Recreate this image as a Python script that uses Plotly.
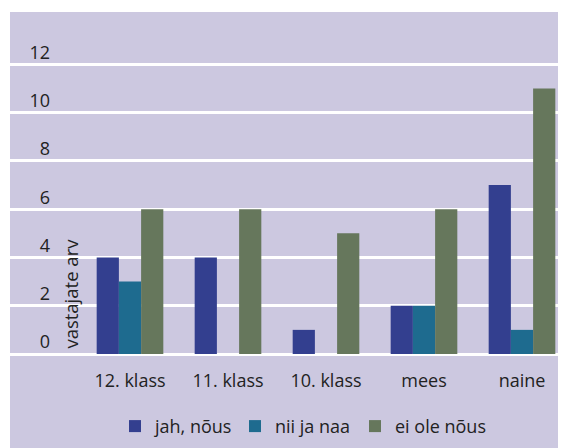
import plotly.graph_objects as go

categories = ["12. klass", "11. klass", "10. klass", "mees", "naine"]
series_names = ["jah, nõus", "nii ja naa", "ei ole nõus"]
jah_nous = [4, 4, 1, 2, 7]
nii_ja_naa = [3, 0, 0, 2, 1]
ei_ole_nous = [6, 6, 5, 6, 11]
y_ticks = [0, 2, 4, 6, 8, 10, 12]
colors = ["#333f8f", "#1e6b8f", "#66775c"]
bg = "#ccc8e0"
font_family = "Open Sans, Noto Sans, sans-serif"

OFF = 8  # page body margin
W, H = 566, 448
ml, mr, mt = 10 - OFF, 0, 12 - OFF
zero_px = 354.5 - OFF
mb = H - zero_px
plot_w = W - ml - mr
plot_h = H - mt - mb
px_per_cat = 98
x0 = -(130 - 10) / px_per_cat
x1 = x0 + plot_w / px_per_cat
px_per_unit = (354.5 - 64.5) / 12
y1 = plot_h / px_per_unit


def px_x(page_x):
    return (page_x - OFF - ml) / plot_w


def px_y(page_y):
    return (zero_px - (page_y - OFF)) / plot_h


legend_keys = ["legend", "legend2", "legend3"]
legend_x = [115, 235, 355]

fig = go.Figure()
for name, vals, c, lk in zip(series_names, [jah_nous, nii_ja_naa, ei_ole_nous], colors, legend_keys):
    fig.add_trace(go.Bar(x=categories, y=vals, name=name, legend=lk,
                         marker=dict(color=c, line=dict(width=0))))

legends = {}
for lk, lx in zip(legend_keys, legend_x):
    legends[lk] = dict(
        orientation="h", x=px_x(lx), xanchor="left",
        y=px_y(427), yanchor="middle",
        bgcolor="rgba(0,0,0,0)", font=dict(size=18), itemwidth=30,
    )

fig.update_layout(
    width=W, height=H,
    margin=dict(l=ml, r=mr, t=mt, b=mb, pad=0),
    paper_bgcolor="white",
    plot_bgcolor=bg,
    barmode="group",
    bargap=0.32,
    bargroupgap=0,
    font=dict(family=font_family, size=18, color="#222222"),
    showlegend=True,
    shapes=[dict(type="rect", xref="paper", yref="paper", x0=0, x1=1,
                 y0=-mb / plot_h, y1=1, fillcolor=bg, line=dict(width=0), layer="below")],
    xaxis=dict(range=[x0, x1], showgrid=False, zeroline=False, showline=False,
               ticks="", tickfont=dict(size=18), ticklabelstandoff=14),
    yaxis=dict(range=[0, y1], tickvals=y_ticks, showgrid=True, gridcolor="white", gridwidth=3,
               zeroline=True, zerolinecolor="white", zerolinewidth=3, showline=False,
               ticks="", anchor="free", position=px_x(50),
               ticklabelshift=-12, ticklabelstandoff=0, tickfont=dict(size=18)),
    annotations=[dict(text="vastajate arv", xref="paper", yref="paper",
                      x=px_x(71), y=px_y(294),
                      textangle=-90, showarrow=False, font=dict(size=18.5),
                      xanchor="center", yanchor="middle")],
    **legends,
)

fig.write_html("out.html")
